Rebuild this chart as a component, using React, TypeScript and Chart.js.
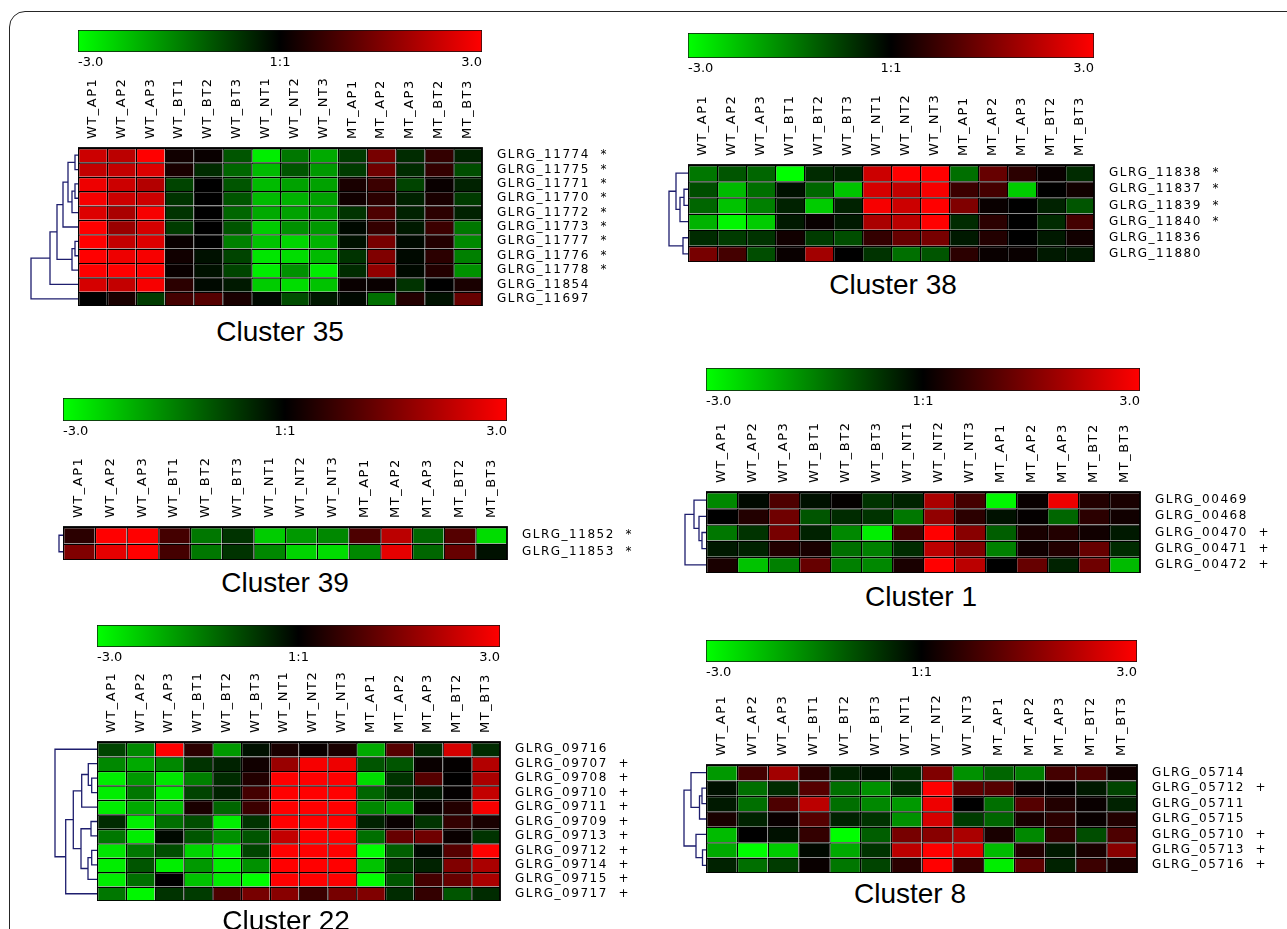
import React, { useEffect, useRef } from 'react';
import { Chart, registerables } from 'chart.js';

Chart.register(...registerables);

// ---------- shared labels ----------
const columns = ['WT_AP1', 'WT_AP2', 'WT_AP3', 'WT_BT1', 'WT_BT2', 'WT_BT3', 'WT_NT1', 'WT_NT2', 'WT_NT3', 'MT_AP1', 'MT_AP2', 'MT_AP3', 'MT_BT2', 'MT_BT3'];
const scaleTickValues = [-3, 0, 3];
const scaleTickLabels = ['-3.0', '1:1', '3.0'];

// ---------- Cluster 35 ----------
const c35Genes = ['GLRG_11774', 'GLRG_11775', 'GLRG_11771', 'GLRG_11770', 'GLRG_11772', 'GLRG_11773', 'GLRG_11777', 'GLRG_11776', 'GLRG_11778', 'GLRG_11854', 'GLRG_11697'];
const c35Marks = ['*', '*', '*', '*', '*', '*', '*', '*', '*', '', ''];
const c35Values = [
  [2.4, 2.2, 3.0, 0.2, 0.1, -1.0, -2.8, -1.4, -2.0, -0.7, 1.4, -0.5, 0.6, -0.4],
  [2.3, 2.3, 2.6, 0.3, -0.5, -1.2, -2.2, -1.0, -1.8, -0.7, 1.3, -0.5, 0.6, -0.9],
  [2.8, 2.4, 2.1, -0.8, 0.0, -1.0, -2.2, -1.9, -1.9, 0.3, 0.7, -0.8, 0.1, -0.4],
  [2.9, 2.4, 2.4, -0.6, 0.0, -1.0, -2.2, -2.1, -1.9, 0.2, 0.5, -0.4, 0.3, -0.7],
  [2.6, 2.0, 2.9, -0.6, 0.0, -1.2, -2.0, -1.9, -1.8, -0.6, 0.9, -0.4, 0.5, -0.4],
  [3.0, 1.8, 2.5, -0.7, 0.0, -1.0, -2.4, -1.7, -1.8, -0.1, 0.6, -0.3, 0.7, -1.4],
  [3.0, 2.3, 2.6, 0.1, 0.0, -1.5, -2.3, -2.5, -2.1, -0.2, 1.4, -0.1, 0.4, -1.6],
  [3.0, 2.8, 2.9, 0.2, -0.2, -0.8, -2.7, -2.6, -2.2, -0.6, 1.5, -0.1, 0.5, -1.5],
  [3.0, 3.0, 3.0, 0.1, -0.2, -0.8, -2.8, -1.7, -2.8, -0.5, 1.7, -0.1, 0.4, -1.7],
  [2.5, 2.3, 2.9, 0.5, -0.1, -0.3, -2.4, -2.6, -2.3, 0.1, 0.1, -0.6, 0.0, 0.3],
  [0.0, 0.3, -0.7, 0.8, 1.0, 0.3, -0.1, -0.9, -0.3, -0.1, -1.3, 0.4, -0.2, 1.2],
];
// linkage: [childA, childB, height]; ids >= n are earlier merges (n + k)
const c35Tree = [
  [0, 1, 3], [2, 3, 3], [12, 4, 6], [11, 13, 10], [14, 5, 15],
  [6, 7, 3], [16, 8, 6], [15, 17, 21], [18, 9, 28], [19, 10, 47],
];

// ---------- Cluster 38 ----------
const c38Genes = ['GLRG_11838', 'GLRG_11837', 'GLRG_11839', 'GLRG_11840', 'GLRG_11836', 'GLRG_11880'];
const c38Marks = ['*', '*', '*', '*', '', ''];
const c38Values = [
  [-1.4, -1.0, -1.2, -3.0, -0.5, -0.4, 2.4, 3.0, 3.0, -1.3, 1.2, 0.5, 0.1, -0.5],
  [-0.9, -2.2, -1.3, -0.2, -1.2, -2.3, 2.5, 2.3, 2.9, 0.7, 0.8, -2.4, 0.0, 0.2],
  [-1.2, -2.3, -1.5, -0.4, -2.4, -0.4, 2.9, 2.4, 3.0, 1.5, 0.1, 0.0, -0.4, -1.0],
  [-2.1, -2.9, -2.4, -0.3, 0.1, -0.3, 2.0, 2.2, 3.0, -0.5, 0.5, 0.0, -0.5, 0.8],
  [-0.5, -0.7, -0.6, 0.2, -0.7, -0.9, 0.6, 1.2, 1.4, -0.3, 0.4, 0.0, -0.3, 0.2],
  [1.4, 0.8, -0.9, 0.1, 1.9, 0.0, -0.6, -1.3, -1.0, 0.5, 0.1, 0.1, -0.3, -0.3],
];
const c38Tree = [[1, 2, 4], [6, 3, 8], [0, 7, 12], [4, 5, 5], [8, 9, 19]];

// ---------- Cluster 39 ----------
const c39Genes = ['GLRG_11852', 'GLRG_11853'];
const c39Marks = ['*', '*'];
const c39Values = [
  [0.5, 3.0, 3.0, 0.8, -1.4, -0.6, -2.4, -1.8, -1.6, 0.9, 2.2, -1.2, 1.0, -2.6],
  [1.5, 2.7, 3.0, 0.8, -1.4, -0.6, -1.6, -2.5, -2.6, -1.6, 2.7, -1.2, 1.2, -0.2],
];
const c39Tree = [[0, 1, 4]];

// ---------- Cluster 1 ----------
const c1Genes = ['GLRG_00469', 'GLRG_00468', 'GLRG_00470', 'GLRG_00471', 'GLRG_00472'];
const c1Marks = ['', '', '+', '+', '+'];
const c1Values = [
  [-1.6, -0.1, 0.9, -0.2, 0.05, -0.6, -0.4, 2.0, 0.8, -2.9, 0.1, 2.8, 0.4, 0.3],
  [0.0, 0.4, 1.3, -1.0, -0.5, -0.6, -1.4, 1.7, 0.5, -0.2, 0.05, -1.2, 0.5, 0.2],
  [-1.4, -0.6, 1.4, -0.4, -1.6, -2.8, 0.8, 3.0, 1.6, -1.1, 0.3, 0.4, 0.2, -0.3],
  [-0.3, -0.4, 0.4, 0.3, -1.3, -1.5, -0.5, 2.2, 1.5, -1.5, 0.2, 0.4, 1.2, -0.5],
  [0.3, -2.3, -1.5, 1.2, -1.5, -1.6, 0.3, 3.0, 2.2, 0.0, 1.2, -0.4, 1.3, -2.2],
];
const c1Tree = [[2, 3, 4], [1, 5, 7], [0, 6, 12], [7, 4, 21]];

// ---------- Cluster 22 ----------
const c22Genes = ['GLRG_09716', 'GLRG_09707', 'GLRG_09708', 'GLRG_09710', 'GLRG_09711', 'GLRG_09709', 'GLRG_09713', 'GLRG_09712', 'GLRG_09714', 'GLRG_09715', 'GLRG_09717'];
const c22Marks = ['', '+', '+', '+', '+', '+', '+', '+', '+', '+', '+'];
const c22Values = [
  [-0.8, -1.6, 3.0, 0.5, -1.8, -0.2, 0.3, 0.1, 0.3, -2.0, 1.0, -0.5, 2.5, -0.5],
  [-1.6, -2.0, -1.6, -0.6, -0.4, 0.2, 1.8, 2.9, 2.8, -1.0, -1.0, 0.1, 0.05, 2.1],
  [-2.8, -1.8, -2.7, -1.5, -0.5, 0.4, 3.0, 3.0, 3.0, -2.6, -0.6, 1.0, 0.0, 2.0],
  [-2.8, -1.4, -2.8, -0.8, -0.4, 0.8, 3.0, 3.0, 3.0, -1.2, -0.5, -0.3, 0.05, 2.3],
  [-2.8, -2.0, -2.3, 0.3, -1.2, 0.7, 3.0, 3.0, 3.0, -1.6, -1.8, 0.1, 0.4, 2.9],
  [-0.5, -2.8, -1.3, -0.9, -2.8, -0.6, 3.0, 3.0, 3.0, -0.4, 0.1, -0.6, 0.6, 0.3],
  [-1.4, -2.8, -0.1, -1.0, -1.7, -1.0, 2.3, 3.0, 3.0, -1.3, 1.2, 1.3, 0.1, -0.6],
  [-2.7, -1.4, -0.9, -2.5, -2.9, -0.8, 3.0, 3.0, 3.0, -3.0, -1.1, -0.1, 1.0, 3.0],
  [-2.8, -1.0, -2.8, -1.8, -2.8, -1.7, 3.0, 3.0, 3.0, -2.3, -0.6, -0.4, 1.5, 2.0],
  [-2.8, -1.3, 0.0, -2.3, -2.8, -3.0, 3.0, 3.0, 3.0, -3.0, -1.0, 0.8, 1.2, 2.0],
  [-1.4, -2.9, -0.6, -0.7, 0.9, 1.4, 1.6, 0.7, 1.4, 1.5, -0.5, 0.6, -1.0, -0.5],
];
const c22Tree = [
  [2, 3, 5.3], [1, 11, 8.7], [12, 4, 15.3], [5, 6, 6], [7, 8, 5.3],
  [15, 9, 9], [14, 16, 16], [13, 17, 23.7], [18, 10, 31.3], [0, 19, 42],
];

// ---------- Cluster 8 ----------
const c8Genes = ['GLRG_05714', 'GLRG_05712', 'GLRG_05711', 'GLRG_05715', 'GLRG_05710', 'GLRG_05713', 'GLRG_05716'];
const c8Marks = ['', '+', '', '', '+', '+', '+'];
const c8Values = [
  [-1.8, 0.8, 1.9, 0.5, -0.4, -0.2, -0.5, 1.5, -1.7, -1.2, -1.5, 0.8, 0.9, 0.2],
  [-0.2, -1.3, -0.5, 1.0, -1.3, -1.7, -0.5, 3.0, 1.1, 1.0, 0.1, 0.05, -0.3, -0.8],
  [-0.3, -1.3, 0.9, 2.2, -1.3, -1.6, -1.8, 2.8, 0.0, -1.3, 1.0, 0.4, 0.1, -0.4],
  [0.3, -0.4, 0.1, 1.0, -0.4, -0.6, -1.7, 2.5, -0.7, -1.2, 0.3, 0.5, 0.1, 0.4],
  [-2.2, 0.0, -0.2, 0.6, -3.0, -1.1, 1.4, 1.6, 2.0, 0.3, -1.6, 0.6, -0.9, 0.9],
  [-2.0, -3.0, -2.4, -0.1, -2.0, -0.6, 2.2, 3.0, 2.6, -2.2, 0.4, -0.3, 0.3, 1.6],
  [-0.4, -1.3, -0.7, 0.1, -1.4, -0.8, 0.5, 3.0, 0.6, -2.8, 1.1, -0.4, 0.7, 0.3],
];
const c8Tree = [[1, 2, 4], [7, 3, 6.5], [0, 8, 15], [5, 6, 3.5], [4, 10, 10], [9, 11, 22]];

// ---------- layout (positions, kept apart from the data) ----------
type PanelSpec = {
  title: string; genes: string[]; marks: string[]; values: number[][]; tree: number[][];
  left: number; right: number; top: number; bottom: number;
  barTop: number; barBottom: number; titleX: number; titleY: number;
};

const panels: PanelSpec[] = [
  { title: 'Cluster 35', genes: c35Genes, marks: c35Marks, values: c35Values, tree: c35Tree, left: 78, right: 482, top: 148, bottom: 306, barTop: 30, barBottom: 52, titleX: 280, titleY: 332 },
  { title: 'Cluster 38', genes: c38Genes, marks: c38Marks, values: c38Values, tree: c38Tree, left: 688, right: 1094, top: 165, bottom: 262, barTop: 33, barBottom: 58, titleX: 893, titleY: 285 },
  { title: 'Cluster 39', genes: c39Genes, marks: c39Marks, values: c39Values, tree: c39Tree, left: 63, right: 507, top: 527, bottom: 560, barTop: 398, barBottom: 421, titleX: 285, titleY: 583 },
  { title: 'Cluster 1', genes: c1Genes, marks: c1Marks, values: c1Values, tree: c1Tree, left: 706, right: 1140, top: 492, bottom: 573, barTop: 368, barBottom: 391, titleX: 921, titleY: 597 },
  { title: 'Cluster 22', genes: c22Genes, marks: c22Marks, values: c22Values, tree: c22Tree, left: 97, right: 500, top: 742, bottom: 901, barTop: 625, barBottom: 647, titleX: 286, titleY: 921 },
  { title: 'Cluster 8', genes: c8Genes, marks: c8Marks, values: c8Values, tree: c8Tree, left: 706, right: 1137, top: 765, bottom: 873, barTop: 640, barBottom: 662, titleX: 910, titleY: 894 },
];

const TOP_AXIS = 80;
const RIGHT_AXIS = 150;
const BAR_LABELS = 22;
const LABEL_FONT = { family: 'DejaVu Sans', size: 12, lineHeight: 1.2 };
const COL_FONT = { family: 'DejaVu Sans', size: 13, lineHeight: 1.2 };
const BAR_FONT = { family: 'DejaVu Sans', size: 13, lineHeight: 1.2 };
const ROT_LABEL_SHIFT = 13 * 1.2; // Chart.js shifts rotated top labels by one line height
const TREE_COLOR = '#1e1e6e';

function cellColor(v: number): string {
  const t = Math.max(-1, Math.min(1, v / 3));
  const c = Math.round(Math.abs(t) * 255);
  return t >= 0 ? `rgb(${c},0,0)` : `rgb(0,${c},0)`;
}

function treeSegments(tree: number[][], n: number) {
  const pos: number[] = [];
  const hgt: number[] = [];
  for (let i = 0; i < n; i++) { pos[i] = i + 0.5; hgt[i] = 0; }
  return tree.map(([a, b, h], k) => {
    pos[n + k] = (pos[a] + pos[b]) / 2;
    hgt[n + k] = h;
    return [
      { x: hgt[a], y: pos[a] }, { x: h, y: pos[a] },
      { x: h, y: pos[b] }, { x: hgt[b], y: pos[b] },
    ];
  });
}

const spacingPlugin = {
  id: 'letterSpacing',
  beforeDraw(chart: any) { chart.ctx.letterSpacing = '1.5px'; },
  afterDraw(chart: any) { chart.ctx.letterSpacing = '0px'; },
};

const framePlugin = {
  id: 'frame',
  afterDatasetsDraw(chart: any) {
    const { ctx, chartArea: a } = chart;
    ctx.save();
    ctx.strokeStyle = '#000';
    ctx.lineWidth = 1.8;
    ctx.strokeRect(a.left, a.top, a.right - a.left, a.bottom - a.top);
    ctx.restore();
  },
};

function HeatPanel({ p }: { p: PanelSpec }) {
  const barRef = useRef<HTMLCanvasElement>(null);
  const mapRef = useRef<HTMLCanvasElement>(null);
  const treeRef = useRef<HTMLCanvasElement>(null);
  const rootH = Math.max(...p.tree.map((m) => m[2]));

  useEffect(() => {
    const charts: Chart[] = [];
    const rowLabels = p.genes.map((g, i) => (p.marks[i] ? `${g}  ${p.marks[i]}` : g));

    // colour scale bar
    charts.push(new Chart(barRef.current as HTMLCanvasElement, {
      type: 'bar',
      data: {
        labels: ['scale'],
        datasets: [{
          data: [[scaleTickValues[0], scaleTickValues[scaleTickValues.length - 1]]] as any,
          backgroundColor: (c: any) => {
            const a = c.chart.chartArea;
            if (!a) return '#000';
            const g = c.chart.ctx.createLinearGradient(a.left, 0, a.right, 0);
            const lo = scaleTickValues[0];
            const hi = scaleTickValues[scaleTickValues.length - 1];
            for (let i = 0; i <= 12; i++) {
              const v = lo + ((hi - lo) * i) / 12;
              g.addColorStop(i / 12, cellColor(v));
            }
            return g;
          },
          borderColor: '#111',
          borderWidth: 1,
          borderSkipped: false,
          barPercentage: 1,
          categoryPercentage: 1,
        } as any],
      },
      options: {
        indexAxis: 'y',
        animation: false,
        responsive: true,
        maintainAspectRatio: false,
        events: [],
        layout: { padding: 0, autoPadding: false } as any,
        plugins: { legend: { display: false }, tooltip: { enabled: false } },
        scales: {
          x: {
            type: 'linear', min: -3, max: 3, position: 'bottom',
            grid: { display: false, drawTicks: false },
            border: { display: false },
            afterBuildTicks: (s: any) => { s.ticks = scaleTickValues.map((v) => ({ value: v })); },
            afterFit: (s: any) => { s.height = BAR_LABELS; s.paddingLeft = 0; s.paddingRight = 0; },
            ticks: {
              align: 'inner', padding: 3, color: '#000', font: BAR_FONT,
              callback: (v: any) => scaleTickLabels[scaleTickValues.indexOf(Number(v))] ?? '',
            } as any,
          },
          y: { display: false },
        },
      } as any,
    }));

    // heat map
    const datasets = columns.map((col, c) => ({
      label: col,
      data: p.genes.map(() => [c, c + 1]),
      backgroundColor: p.values.map((row) => cellColor(row[c])),
      borderColor: '#000',
      borderWidth: { top: 1.4, left: 1.4, right: 0, bottom: 0 },
      borderSkipped: false,
      inflateAmount: 0,
      barPercentage: 1,
      categoryPercentage: 1,
      grouped: false,
    }));
    charts.push(new Chart(mapRef.current as HTMLCanvasElement, {
      type: 'bar',
      data: { labels: rowLabels, datasets: datasets as any },
      options: {
        indexAxis: 'y',
        animation: false,
        responsive: true,
        maintainAspectRatio: false,
        events: [],
        layout: { padding: 0, autoPadding: false } as any,
        plugins: { legend: { display: false }, tooltip: { enabled: false } },
        scales: {
          x: { type: 'linear', min: 0, max: columns.length, display: false },
          x2: {
            type: 'category', labels: columns, position: 'top', offset: true,
            grid: { display: false, drawTicks: false }, border: { display: false },
            afterFit: (s: any) => { s.height = TOP_AXIS; s.paddingLeft = 0; s.paddingRight = 0; },
            ticks: {
              autoSkip: false, minRotation: 90, maxRotation: 90, padding: 9,
              labelOffset: ROT_LABEL_SHIFT, color: '#000', font: COL_FONT,
            },
          },
          y: {
            type: 'category', labels: rowLabels, position: 'right', offset: true,
            grid: { display: false, drawTicks: false }, border: { display: false },
            afterFit: (s: any) => { s.width = RIGHT_AXIS; s.paddingTop = 0; s.paddingBottom = 0; },
            ticks: { autoSkip: false, padding: 15, color: '#000', font: LABEL_FONT },
          },
        },
      } as any,
      plugins: [spacingPlugin, framePlugin],
    }));

    // dendrogram
    const segs = treeSegments(p.tree, p.genes.length);
    charts.push(new Chart(treeRef.current as HTMLCanvasElement, {
      type: 'scatter',
      data: {
        datasets: segs.map((s) => ({
          data: s, showLine: true, borderColor: TREE_COLOR, borderWidth: 1.3,
          pointRadius: 0, tension: 0, clip: false,
        })) as any,
      },
      options: {
        animation: false,
        responsive: true,
        maintainAspectRatio: false,
        events: [],
        layout: { padding: { left: 2, top: 0, right: 0, bottom: 0 }, autoPadding: false } as any,
        plugins: { legend: { display: false }, tooltip: { enabled: false } },
        scales: {
          x: { type: 'linear', min: 0, max: rootH, reverse: true, display: false },
          y: { type: 'linear', min: 0, max: p.genes.length, reverse: true, display: false },
        },
      } as any,
    }));

    return () => charts.forEach((ch) => ch.destroy());
  }, [p]);

  const abs = (l: number, t: number, w: number, h: number): React.CSSProperties => ({
    position: 'absolute', left: l, top: t, width: w, height: h,
  });

  return (
    <>
      <div style={abs(p.left, p.barTop, p.right - p.left, p.barBottom - p.barTop + BAR_LABELS)}>
        <canvas ref={barRef} />
      </div>
      <div style={abs(p.left, p.top - TOP_AXIS, p.right - p.left + RIGHT_AXIS, p.bottom - p.top + TOP_AXIS)}>
        <canvas ref={mapRef} />
      </div>
      <div style={abs(p.left - rootH - 2, p.top, rootH + 2, p.bottom - p.top)}>
        <canvas ref={treeRef} />
      </div>
      <div
        style={{
          position: 'absolute', left: p.titleX - 150, top: p.titleY - 16, width: 300,
          textAlign: 'center', font: '28px "Liberation Sans", Arial, sans-serif', lineHeight: '32px', color: '#000',
        }}
      >
        {p.title}
      </div>
    </>
  );
}

export default function App() {
  return (
    <div style={{ position: 'absolute', left: 0, top: 0, width: 1287, height: 929, overflow: 'hidden', background: '#fff' }}>
      <div
        style={{
          position: 'absolute', left: 9, top: 11, width: 1320, height: 1000,
          border: '1.6px solid #262626', borderTopLeftRadius: 16, boxSizing: 'border-box',
        }}
      />
      {panels.map((p) => (
        <HeatPanel key={p.title} p={p} />
      ))}
    </div>
  );
}
